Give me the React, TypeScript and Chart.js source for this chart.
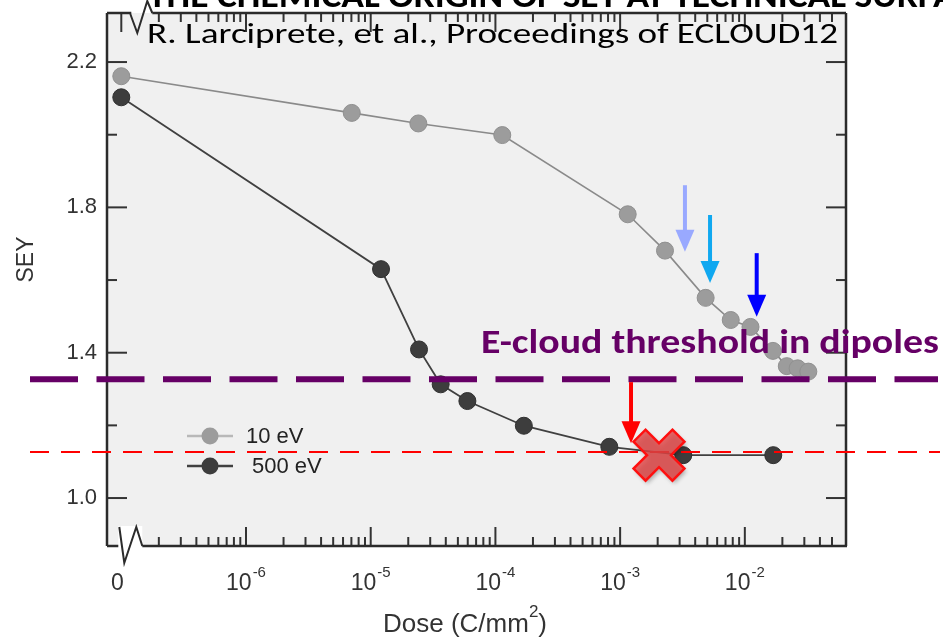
import React, { useEffect, useRef } from "react";
import { Chart, registerables } from "chart.js";

Chart.register(...registerables);

// ---------- data ----------
const ZERO_DOSE_POS = 1e-7; // position of dose "0" on the broken log axis

const DOSE_10EV = [0, 7.05e-6, 2.41e-5, 1.135e-4, 1.15e-3, 2.29e-3, 4.85e-3, 7.71e-3, 1.11e-2, 1.68e-2, 2.17e-2, 2.65e-2, 3.23e-2];
const SEY_10EV = [2.161, 2.06, 2.031, 1.999, 1.781, 1.681, 1.551, 1.49, 1.471, 1.405, 1.363, 1.357, 1.348];

const DOSE_500EV = [0, 1.21e-5, 2.44e-5, 3.64e-5, 5.96e-5, 1.69e-4, 8.19e-4, 3.21e-3, 1.69e-2];
const SEY_500EV = [2.103, 1.63, 1.409, 1.313, 1.267, 1.199, 1.141, 1.118, 1.118];

const SERIES_LABELS = ["10 eV", "500 eV"];

const X_MIN = 7.68e-8;
const X_MAX = 0.06475;
const X_MAJOR_EXP = [-6, -5, -4, -3, -2];
const X_ZERO_LABEL = "0";

const Y_MIN = 0.868;
const Y_MAX = 2.335;
const Y_MAJOR = [1.0, 1.4, 1.8, 2.2];
const Y_MINOR = [1.2, 1.6, 2.0];

const THRESHOLD_DIPOLES = 1.327;
const THRESHOLD_RED = 1.127;
const THRESHOLD_TEXT = "E-cloud threshold in dipoles";
const CITATION = "R. Larciprete, et al., Proceedings of ECLOUD12";
const TOP_TITLE = "THE CHEMICAL ORIGIN OF SEY AT TECHNICAL SURFACES";
const TOP_TITLE_VISIBLE = "THE CHEMICAL ORIGIN OF SEY AT TECHNICAL SURF";

const ARROW_DOSE = [3.31e-3, 5.26e-3, 1.245e-2, 1.223e-3];
const ARROW_FROM = [1.861, 1.779, 1.674, 1.319];
const ARROW_TO = [1.678, 1.592, 1.499, 1.151];
const ARROW_COLORS = ["#99a9ff", "#10a8f0", "#0000ff", "#ff0000"];

const CROSS_DOSE = 2.05e-3;
const CROSS_SEY = 1.118;

const SANS = '"Liberation Sans", Arial, Helvetica, sans-serif';
const CAL = 'Carlito, Lato, "Open Sans", sans-serif';

function toPoints(doses: number[], vals: number[]) {
  return doses.map((d, i) => ({ x: d === 0 ? ZERO_DOSE_POS : d, y: vals[i] }));
}

function drawFitted(ctx: CanvasRenderingContext2D, text: string, x: number, baseline: number, font: string, width: number, color: string) {
  ctx.save();
  ctx.font = font;
  ctx.fillStyle = color;
  ctx.textAlign = "left";
  ctx.textBaseline = "alphabetic";
  const w = ctx.measureText(text).width;
  ctx.translate(x, baseline);
  ctx.scale(width / w, 1);
  ctx.fillText(text, 0, 0);
  ctx.restore();
}

export default function App() {
  const ref = useRef<HTMLCanvasElement>(null);

  useEffect(() => {
    const canvas = ref.current!;

    const line = (ctx: CanvasRenderingContext2D, x1: number, y1: number, x2: number, y2: number) => {
      ctx.beginPath();
      ctx.moveTo(x1, y1);
      ctx.lineTo(x2, y2);
      ctx.stroke();
    };

    const decor = {
      id: "decor",
      beforeDraw(chart: any) {
        const { ctx, chartArea: a } = chart;
        ctx.save();
        ctx.fillStyle = "#ffffff";
        ctx.fillRect(0, 0, chart.width, chart.height);
        ctx.fillStyle = "#f0f0f0";
        ctx.fillRect(a.left, a.top, a.right - a.left, a.bottom - a.top);
        ctx.restore();
      },
      afterDraw(chart: any) {
        const ctx: CanvasRenderingContext2D = chart.ctx;
        const a = chart.chartArea;
        const xs = chart.scales.x;
        const ys = chart.scales.y;
        const X = (v: number) => xs.getPixelForValue(v);
        const Y = (v: number) => ys.getPixelForValue(v);
        const x0 = X(ZERO_DOSE_POS);

        ctx.save();
        // ---- ticks (inward, mirrored) ----
        ctx.strokeStyle = "#333";
        ctx.lineWidth = 2;
        const vtick = (x: number, len: number) => {
          line(ctx, x, a.bottom, x, a.bottom - len);
          line(ctx, x, a.top, x, a.top + len);
        };
        const htick = (y: number, len: number) => {
          line(ctx, a.left, y, a.left + len, y);
          line(ctx, a.right, y, a.right - len, y);
        };
        vtick(x0, 19);
        X_MAJOR_EXP.forEach((e) => vtick(X(Math.pow(10, e)), 19));
        for (let e = -7; e <= -2; e++) {
          for (let m = 2; m <= 9; m++) {
            const px = X(m * Math.pow(10, e));
            if (px > x0 + 20 && px < a.right - 8) vtick(px, 9);
          }
        }
        Y_MAJOR.forEach((v) => htick(Y(v), 20));
        Y_MINOR.forEach((v) => htick(Y(v), 10));

        // ---- frame with axis breaks ----
        ctx.strokeStyle = "#2b2b2b";
        ctx.lineWidth = 2.5;
        line(ctx, a.left, a.top, a.left, a.bottom);
        line(ctx, a.right, a.top, a.right, a.bottom);
        // top
        ctx.fillStyle = "#ffffff";
        ctx.fillRect(x0 + 10, 0, 21, a.top - 1);
        line(ctx, a.left, a.top, x0 + 10, a.top);
        line(ctx, x0 + 31, a.top, a.right, a.top);
        ctx.lineWidth = 2;
        ctx.beginPath();
        ctx.moveTo(x0 + 9, a.top + 1);
        ctx.lineTo(x0 + 16, a.top + 20);
        ctx.lineTo(x0 + 26, a.top - 12);
        ctx.lineTo(x0 + 31, a.top);
        ctx.stroke();
        // bottom
        ctx.fillStyle = "#ffffff";
        ctx.fillRect(x0 - 3, a.bottom - 20, 24, 23);
        ctx.lineWidth = 2.5;
        line(ctx, a.left, a.bottom, x0 - 3, a.bottom);
        line(ctx, x0 + 21, a.bottom, a.right + 1, a.bottom);
        ctx.lineWidth = 2;
        ctx.beginPath();
        ctx.moveTo(x0 - 2, a.bottom - 19);
        ctx.lineTo(x0 + 3, a.bottom + 17);
        ctx.lineTo(x0 + 15, a.bottom - 19);
        ctx.lineTo(x0 + 21, a.bottom);
        ctx.stroke();

        // ---- x tick labels ----
        ctx.fillStyle = "#333";
        ctx.textBaseline = "alphabetic";
        const base = a.bottom + 44;
        ctx.font = `23px ${SANS}`;
        ctx.textAlign = "center";
        ctx.fillText(X_ZERO_LABEL, x0 - 4, base);
        ctx.textAlign = "left";
        X_MAJOR_EXP.forEach((e) => {
          const px = X(Math.pow(10, e));
          ctx.font = `23px ${SANS}`;
          const w1 = ctx.measureText("10").width;
          ctx.font = `15px ${SANS}`;
          const sup = "-" + Math.abs(e);
          const w2 = ctx.measureText(sup).width;
          const start = px - (w1 + w2 + 1) / 2;
          ctx.font = `23px ${SANS}`;
          ctx.fillText("10", start, base);
          ctx.font = `15px ${SANS}`;
          ctx.fillText(sup, start + w1 + 1, base - 13);
        });

        // ---- axis titles ----
        ctx.font = `26px ${SANS}`;
        const t1 = "Dose (C/mm";
        const w1 = ctx.measureText(t1).width;
        ctx.font = `17px ${SANS}`;
        const w2 = ctx.measureText("2").width;
        ctx.font = `26px ${SANS}`;
        const w3 = ctx.measureText(")").width;
        const tx = 465 - (w1 + w2 + w3) / 2;
        ctx.fillStyle = "#333";
        ctx.fillText(t1, tx, a.bottom + 86);
        ctx.font = `17px ${SANS}`;
        ctx.fillText("2", tx + w1, a.bottom + 71);
        ctx.font = `26px ${SANS}`;
        ctx.fillText(")", tx + w1 + w2, a.bottom + 86);

        ctx.save();
        ctx.translate(27, (a.top + a.bottom) / 2 - 20);
        ctx.rotate(-Math.PI / 2);
        ctx.font = `23px ${SANS}`;
        ctx.textAlign = "center";
        ctx.textBaseline = "middle";
        ctx.fillText("SEY", 0, 0);
        ctx.restore();

        // ---- legend ----
        const dsets = chart.data.datasets;
        [0, 1].forEach((i) => {
          const ds = dsets[i];
          const ly = a.top + 423 + i * 30;
          ctx.strokeStyle = i === 0 ? "#b8b8b8" : ds.borderColor;
          ctx.lineWidth = 2.5;
          line(ctx, a.left + 80, ly, a.left + 126, ly);
          ctx.fillStyle = ds.pointBackgroundColor;
          ctx.beginPath();
          ctx.arc(a.left + 103, ly, 8.5, 0, Math.PI * 2);
          ctx.fill();
          ctx.fillStyle = "#222";
          ctx.font = `22px ${SANS}`;
          ctx.textAlign = "left";
          ctx.textBaseline = "middle";
          ctx.fillText(ds.label, a.left + 139 + i * 6, ly + 1);
        });

        // ---- threshold lines ----
        ctx.setLineDash([19, 12]);
        ctx.strokeStyle = "#ff0000";
        ctx.lineWidth = 2;
        line(ctx, 30, Y(THRESHOLD_RED), 940, Y(THRESHOLD_RED));
        ctx.setLineDash([48, 18.5]);
        ctx.strokeStyle = "#660066";
        ctx.lineWidth = 6;
        line(ctx, 30, Y(THRESHOLD_DIPOLES), 938, Y(THRESHOLD_DIPOLES));
        ctx.setLineDash([]);

        // ---- arrows ----
        ARROW_DOSE.forEach((d, i) => {
          const px = X(d);
          const yTop = Y(ARROW_FROM[i]);
          const yTip = Y(ARROW_TO[i]);
          const head = 22;
          ctx.strokeStyle = ARROW_COLORS[i];
          ctx.fillStyle = ARROW_COLORS[i];
          ctx.lineWidth = 4;
          line(ctx, px, yTop, px, yTip - head + 2);
          ctx.beginPath();
          ctx.moveTo(px - 9.5, yTip - head);
          ctx.lineTo(px + 9.5, yTip - head);
          ctx.lineTo(px, yTip);
          ctx.closePath();
          ctx.fill();
        });

        // ---- red cross ----
        const cx = X(CROSS_DOSE);
        const cy = Y(CROSS_SEY);
        const h = 8.5, L = 27.5;
        const pts = [
          [-h, -L], [h, -L], [h, -h], [L, -h], [L, h], [h, h],
          [h, L], [-h, L], [-h, h], [-L, h], [-L, -h], [-h, -h],
        ];
        ctx.save();
        ctx.translate(cx, cy);
        ctx.rotate(Math.PI / 4);
        ctx.beginPath();
        pts.forEach(([px, py], k) => (k === 0 ? ctx.moveTo(px, py) : ctx.lineTo(px, py)));
        ctx.closePath();
        ctx.shadowColor = "rgba(0,0,0,0.35)";
        ctx.shadowBlur = 4;
        ctx.shadowOffsetX = 2;
        ctx.shadowOffsetY = 3;
        ctx.fillStyle = "rgba(225,70,70,0.82)";
        ctx.fill();
        ctx.shadowColor = "transparent";
        ctx.strokeStyle = "#ff1010";
        ctx.lineWidth = 2.5;
        ctx.lineJoin = "miter";
        ctx.stroke();
        ctx.restore();

        // ---- texts ----
        drawFitted(ctx, THRESHOLD_TEXT, 481, Y(THRESHOLD_DIPOLES) - 26, `bold 34px ${CAL}`, 458, "#660066");
        drawFitted(ctx, CITATION, 147, a.top + 30, `29px ${CAL}`, 691, "#000000");

        ctx.save();
        ctx.font = `bold 34px ${CAL}`;
        const wt = ctx.measureText(TOP_TITLE_VISIBLE).width;
        ctx.translate(148, 7);
        ctx.scale(787 / wt, 1);
        ctx.fillStyle = "#000";
        ctx.textAlign = "left";
        ctx.textBaseline = "alphabetic";
        ctx.fillText(TOP_TITLE, 0, 0);
        ctx.restore();

        ctx.restore();
      },
    };

    const chart = new Chart(canvas, {
      type: "line",
      data: {
        datasets: [
          {
            label: SERIES_LABELS[0],
            data: toPoints(DOSE_10EV, SEY_10EV),
            borderColor: "#8a8a8a",
            borderWidth: 1.6,
            pointBackgroundColor: "#9c9c9c",
            pointBorderColor: "#909090",
            pointBorderWidth: 1,
            pointRadius: 8.5,
            tension: 0,
          },
          {
            label: SERIES_LABELS[1],
            data: toPoints(DOSE_500EV, SEY_500EV),
            borderColor: "#404040",
            borderWidth: 1.8,
            pointBackgroundColor: "#3d3d3d",
            pointBorderColor: "#303030",
            pointBorderWidth: 1,
            pointRadius: 8.5,
            tension: 0,
          },
        ],
      },
      options: {
        responsive: false,
        animation: false,
        devicePixelRatio: 1,
        layout: { padding: { top: 13, right: 97, left: 0, bottom: 0 } },
        plugins: { legend: { display: false }, tooltip: { enabled: false } },
        scales: {
          x: {
            type: "logarithmic",
            min: X_MIN,
            max: X_MAX,
            grid: { display: false, drawTicks: false },
            border: { display: false },
            ticks: { display: false },
            afterFit: (s: any) => {
              s.height = 92;
              s.paddingLeft = 0;
              s.paddingRight = 0;
            },
          },
          y: {
            type: "linear",
            min: Y_MIN,
            max: Y_MAX,
            grid: { display: false, drawTicks: false },
            border: { display: false },
            afterBuildTicks: (s: any) => {
              s.ticks = Y_MAJOR.map((v) => ({ value: v }));
            },
            ticks: {
              font: { family: SANS, size: 22 },
              color: "#333",
              padding: 10,
              callback: (v: any) => Number(v).toFixed(1),
            },
            afterFit: (s: any) => {
              s.width = 107;
              s.paddingTop = 0;
              s.paddingBottom = 0;
            },
          },
        },
      },
      plugins: [decor],
    } as any);

    return () => chart.destroy();
  }, []);

  return (
    <div style={{ position: "fixed", left: 0, top: 0, width: 943, height: 638, background: "#fff" }}>
      <canvas ref={ref} width={943} height={638} style={{ width: 943, height: 638, display: "block" }} />
    </div>
  );
}
